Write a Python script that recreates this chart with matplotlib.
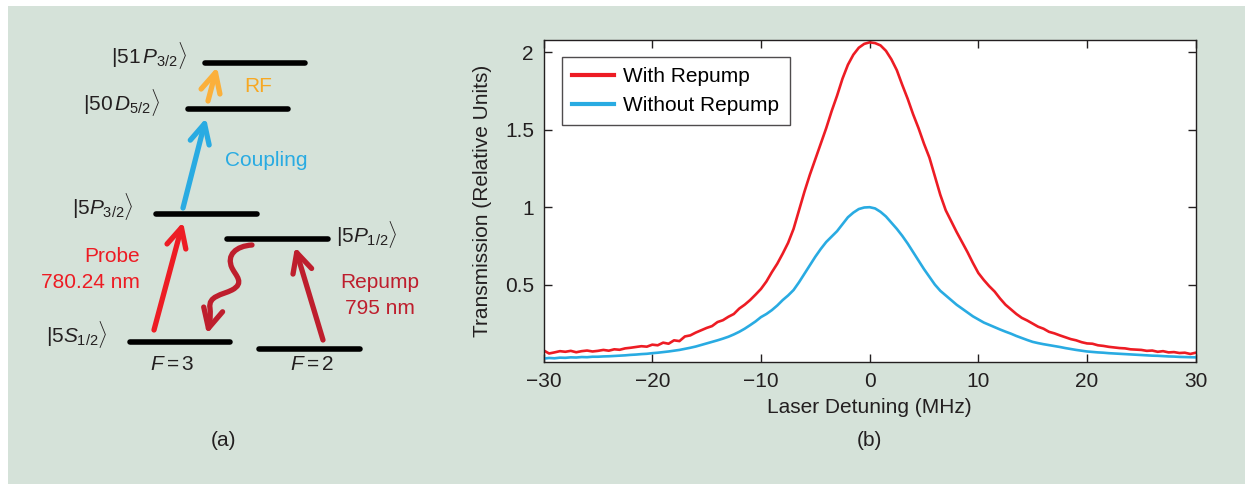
import numpy as np
import matplotlib
matplotlib.use("Agg")
import matplotlib.pyplot as plt
from matplotlib.patches import FancyArrowPatch, Rectangle
from matplotlib.path import Path

plt.rcParams['font.family'] = ['Liberation Sans', 'DejaVu Sans']
plt.rcParams['mathtext.fontset'] = 'custom'
plt.rcParams['mathtext.rm'] = 'Liberation Sans'
plt.rcParams['mathtext.it'] = 'Liberation Sans:italic'
plt.rcParams['mathtext.bf'] = 'Liberation Sans:bold'

# ---------------- data (panel b) ----------------
detuning = np.linspace(-30, 30, 121)  # MHz, 0.5 MHz grid
with_repump = [
    0.075, 0.055, 0.062, 0.070, 0.066, 0.072, 0.063, 0.070, 0.074, 0.068,
    0.072, 0.078, 0.073, 0.082, 0.079, 0.088, 0.092, 0.097, 0.102, 0.099,
    0.112, 0.108, 0.125, 0.118, 0.140, 0.135, 0.165, 0.172, 0.190, 0.205,
    0.220, 0.232, 0.258, 0.270, 0.292, 0.310, 0.345, 0.370, 0.400, 0.435,
    0.472, 0.520, 0.580, 0.635, 0.700, 0.770, 0.860, 0.980, 1.100, 1.210,
    1.310, 1.410, 1.510, 1.620, 1.720, 1.830, 1.920, 1.985, 2.030, 2.055,
    2.065, 2.060, 2.045, 2.010, 1.955, 1.885, 1.790, 1.700, 1.600, 1.510,
    1.410, 1.320, 1.200, 1.080, 0.980, 0.910, 0.840, 0.775, 0.710, 0.640,
    0.575, 0.530, 0.490, 0.455, 0.410, 0.370, 0.340, 0.310, 0.285, 0.268,
    0.248, 0.228, 0.215, 0.195, 0.185, 0.172, 0.160, 0.148, 0.140, 0.128,
    0.120, 0.118, 0.108, 0.104, 0.098, 0.094, 0.090, 0.088, 0.082, 0.080,
    0.078, 0.072, 0.074, 0.066, 0.070, 0.062, 0.064, 0.058, 0.060, 0.052,
    0.060]
without_repump = [
    0.022, 0.026, 0.024, 0.028, 0.027, 0.030, 0.029, 0.032, 0.031, 0.034,
    0.034, 0.036, 0.037, 0.039, 0.041, 0.043, 0.046, 0.048, 0.051, 0.053,
    0.057, 0.060, 0.064, 0.068, 0.073, 0.078, 0.085, 0.092, 0.100, 0.110,
    0.120, 0.130, 0.140, 0.151, 0.163, 0.178, 0.195, 0.215, 0.238, 0.262,
    0.290, 0.310, 0.335, 0.365, 0.400, 0.430, 0.465, 0.515, 0.570, 0.625,
    0.680, 0.730, 0.775, 0.810, 0.845, 0.890, 0.935, 0.965, 0.988, 0.998,
    1.000, 0.992, 0.970, 0.940, 0.900, 0.860, 0.815, 0.765, 0.710, 0.655,
    0.600, 0.550, 0.500, 0.460, 0.430, 0.400, 0.370, 0.345, 0.320, 0.295,
    0.275, 0.255, 0.240, 0.225, 0.210, 0.196, 0.183, 0.168, 0.155, 0.142,
    0.130, 0.122, 0.115, 0.109, 0.103, 0.097, 0.090, 0.084, 0.078, 0.073,
    0.068, 0.065, 0.062, 0.060, 0.057, 0.055, 0.053, 0.051, 0.049, 0.047,
    0.045, 0.043, 0.041, 0.040, 0.038, 0.036, 0.035, 0.033, 0.032, 0.031,
    0.030]
series_labels = ["With Repump", "Without Repump"]
x_ticks = [-30, -20, -10, 0, 10, 20, 30]
x_tick_labels = ["\u221230", "\u221220", "\u221210", "0", "10", "20", "30"]
y_ticks = [0.5, 1, 1.5, 2]
y_tick_labels = ["0.5", "1", "1.5", "2"]

# ---------------- data (panel a: level diagram) ----------------
level_labels = [r"$|51\,P_{3/2}\rangle$", r"$|50\,D_{5/2}\rangle$",
                r"$|5P_{3/2}\rangle$", r"$|5P_{1/2}\rangle$",
                r"$|5S_{1/2}\rangle$"]
hyperfine_labels = [r"$F = 3$", r"$F = 2$"]

# ---------------- style ----------------
BG = "#d5e2d9"
RED = "#ed1c24"
DARKRED = "#be1e2d"
BLUE = "#29abe2"
ORANGE = "#fbb03b"
INK = "#231f20"
W, H = 1245, 484
fs = 15

fig = plt.figure(figsize=(W / 100, H / 100), dpi=100, facecolor="white")

# diagram / background axes in pixel coordinates
ad = fig.add_axes([0, 0, 1, 1])
ad.set_xlim(0, W)
ad.set_ylim(H, 0)
ad.axis("off")
ad.add_patch(Rectangle((8, 6), W - 8, H - 6, facecolor=BG, edgecolor="none", zorder=0))

# level lines: (x0, x1, y)
levels = [(205, 305, 62.5), (188, 288, 109), (156, 257, 214), (227, 328, 239),
          (130, 230, 341.5), (259, 360, 348.5)]
for x0, x1, y in levels:
    ad.plot([x0, x1], [y, y], color="black", lw=4, solid_capstyle="round", zorder=2)

label_pos = [(187, 55, "right"), (160, 102, "right"), (134, 206, "right"),
             (336, 234, "left"), (108, 334, "right")]
for lab, (x, y, ha) in zip(level_labels, label_pos):
    ad.text(x, y, lab, fontsize=fs, ha=ha, va="center", color=INK)
ad.text(172, 364, hyperfine_labels[0], fontsize=fs, ha="center", va="center", color=INK)
ad.text(312, 364, hyperfine_labels[1], fontsize=fs, ha="center", va="center", color=INK)

HEAD = "->,head_length=14,head_width=7"


def arrow(p0, p1, color):
    a = FancyArrowPatch(p0, p1, arrowstyle=HEAD, color=color, lw=3.8,
                        mutation_scale=1, shrinkA=0, shrinkB=0,
                        capstyle="round", joinstyle="round", zorder=3)
    ad.add_patch(a)


arrow((154, 330), (183, 222), RED)          # probe
arrow((183, 208), (206, 118), BLUE)         # coupling
arrow((208, 101), (217, 67), ORANGE)        # RF
arrow((323, 340), (295, 247), DARKRED)      # repump

# wavy decay arrow
verts = [(252, 245),
         (236, 246), (226, 255), (232, 268),
         (236, 276), (245, 283), (232, 290),
         (222, 295), (208, 296), (210, 308),
         (211, 318), (209, 326), (207, 334)]
codes = [Path.MOVETO] + [Path.CURVE4] * 12
wavy = FancyArrowPatch(path=Path(verts, codes), arrowstyle=HEAD,
                       color=DARKRED, lw=3.8, mutation_scale=1,
                       capstyle="round", joinstyle="round", zorder=3)
ad.add_patch(wavy)

ad.text(140, 256, "Probe", fontsize=fs, ha="right", va="center", color=RED)
ad.text(140, 282, "780.24 nm", fontsize=fs, ha="right", va="center", color=RED)
ad.text(225, 160, "Coupling", fontsize=fs, ha="left", va="center", color=BLUE)
ad.text(244, 87, "RF", fontsize=fs, ha="left", va="center", color="#f7a823")
ad.text(380, 283, "Repump", fontsize=fs, ha="center", va="center", color=DARKRED)
ad.text(380, 308, "795 nm", fontsize=fs, ha="center", va="center", color=DARKRED)
ad.text(223, 441, "(a)", fontsize=fs, ha="center", va="center", color=INK)
ad.text(869, 441, "(b)", fontsize=fs, ha="center", va="center", color=INK)

# ---------------- panel b ----------------
ax = fig.add_axes([543.6 / W, 1 - 362 / H, (1195.7 - 543.6) / W, (362 - 40) / H])
ax.set_facecolor("white")
ax.plot(detuning, with_repump, color=RED, lw=1.9, label=series_labels[0])
ax.plot(detuning, without_repump, color=BLUE, lw=1.9, label=series_labels[1])
ax.set_xlim(-30, 30)
ax.set_ylim(0, 2.08)
ax.set_xticks(x_ticks)
ax.set_xticklabels(x_tick_labels)
ax.set_yticks(y_ticks)
ax.set_yticklabels(y_tick_labels)
ax.tick_params(direction="in", length=6, width=1, top=True, right=True,
               labelsize=fs, colors=INK, pad=7)
for s in ax.spines.values():
    s.set_color(INK)
    s.set_linewidth(1)
ax.set_xlabel("Laser Detuning (MHz)", fontsize=fs, color=INK, labelpad=5)
ax.set_ylabel("Transmission (Relative Units)", fontsize=fs, color=INK, labelpad=9)
leg = ax.legend(loc="upper left", bbox_to_anchor=(0.028, 0.947), borderaxespad=0,
                fontsize=fs, frameon=True, fancybox=False, handlelength=2.0,
                handletextpad=0.45, borderpad=0.5, labelspacing=0.45)
leg.get_frame().set_edgecolor(INK)
leg.get_frame().set_linewidth(1)
for l in leg.get_lines():
    l.set_linewidth(3)

fig.savefig("out.png", dpi=100, facecolor="white")
